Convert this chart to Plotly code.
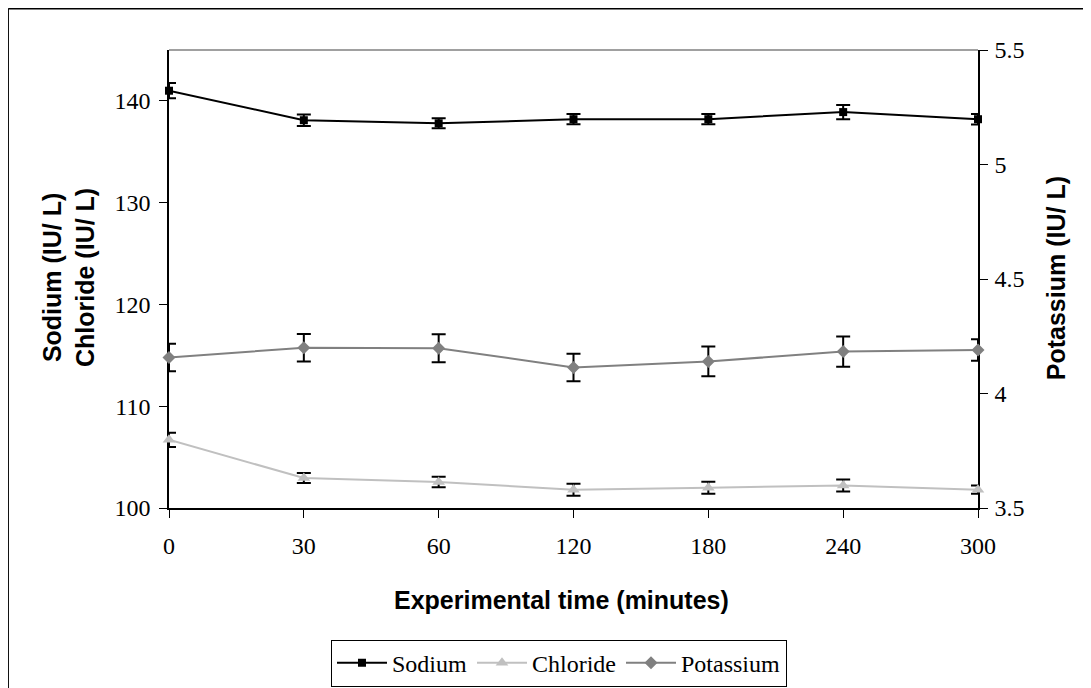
import plotly.graph_objects as go

categories = ["0", "30", "60", "120", "180", "240", "300"]
sodium = [141.0, 138.1, 137.8, 138.2, 138.2, 138.9, 138.2]
sodium_err = [0.75, 0.57, 0.5, 0.5, 0.5, 0.7, 0.52]
chloride = [106.7, 102.95, 102.55, 101.8, 102.0, 102.2, 101.8]
chloride_err = [0.7, 0.5, 0.52, 0.59, 0.59, 0.59, 0.41]
potassium = [4.157, 4.20, 4.198, 4.114, 4.14, 4.183, 4.19]
potassium_err = [0.06, 0.06, 0.061, 0.06, 0.065, 0.066, 0.047]

xpos = list(range(len(categories)))

# page body has an 8px margin; figure is sized to fit the window
OFF = 8
W, H = 1091 - OFF, 688 - OFF
ML = 169.3 - OFF
MT = 50 - OFF
MR = W - (977.7 - OFF)
MB = H - (508.3 - OFF)
PW, PH = W - ML - MR, H - MT - MB


def px_to_paper_x(px):
    return (px - OFF - ML) / PW


def px_to_paper_y(py):
    return (H - MB - (py - OFF)) / PH


serif = "Liberation Serif"
sans = "Liberation Sans"
NBSP = "\u00a0"


def err(arr):
    return dict(type="data", array=arr, visible=True, color="black", thickness=2, width=7)


fig = go.Figure()
fig.add_trace(go.Scatter(
    x=xpos, y=sodium, name="Sodium", mode="lines+markers",
    line=dict(color="black", width=2),
    marker=dict(symbol="square", size=8, color="black"),
    error_y=err(sodium_err), cliponaxis=False,
))
fig.add_trace(go.Scatter(
    x=xpos, y=chloride, name="Chloride", mode="lines+markers",
    line=dict(color="#C0C0C0", width=2),
    marker=dict(symbol="triangle-up", size=11, color="#C0C0C0"),
    error_y=err(chloride_err), cliponaxis=False,
))
fig.add_trace(go.Scatter(
    x=xpos, y=potassium, name="Potassium", mode="lines+markers", yaxis="y2",
    line=dict(color="#808080", width=2),
    marker=dict(symbol="diamond", size=10, color="#808080"),
    error_y=err(potassium_err), cliponaxis=False,
))

tickfont = dict(family=serif, size=24, color="black")
titlefont = dict(family=sans, size=25, color="black", weight="bold")

fig.update_layout(
    width=W, height=H,
    margin=dict(l=ML, r=MR, t=MT, b=MB, pad=0, autoexpand=False),
    paper_bgcolor="white", plot_bgcolor="white",
    showlegend=True,
    legend=dict(
        orientation="h", x=px_to_paper_x(559), xanchor="center",
        y=px_to_paper_y(640), yanchor="top",
        bordercolor="black", borderwidth=1, bgcolor="white",
        font=dict(family=serif, size=24, color="black"),
        itemsizing="trace", itemwidth=50, tracegroupgap=0,
    ),
    xaxis=dict(
        range=[0, 6], tickmode="array", tickvals=xpos, ticktext=categories,
        showline=True, linecolor="black", linewidth=1.5,
        ticks="outside", ticklen=8, tickcolor="black", tickwidth=1,
        showgrid=False, zeroline=False, tickfont=tickfont,
        ticklabelstandoff=7, layer="below traces",
    ),
    xaxis2=dict(
        range=[0, 6], overlaying="x", anchor="y", side="bottom",
        tickmode="array", tickvals=xpos, showticklabels=False,
        ticks="inside", ticklen=8, tickcolor="black", tickwidth=1,
        showline=False, showgrid=False, zeroline=False,
    ),
    yaxis=dict(
        range=[100, 145], tickmode="array", tickvals=[100, 110, 120, 130, 140],
        showline=True, linecolor="black", linewidth=1.5,
        ticks="outside", ticklen=8, tickcolor="black", tickwidth=1,
        showgrid=False, zeroline=False, tickfont=tickfont,
        ticksuffix=NBSP, ticklabelstandoff=4, layer="below traces",
    ),
    yaxis2=dict(
        range=[3.5, 5.5], tickmode="array", tickvals=[3.5, 4, 4.5, 5, 5.5],
        overlaying="y", side="right", anchor="x",
        showline=True, linecolor="black", linewidth=1.5,
        ticks="outside", ticklen=8, tickcolor="black", tickwidth=1,
        showgrid=False, zeroline=False, tickfont=tickfont,
        tickprefix=NBSP, ticklabelstandoff=2, layer="below traces",
    ),
    yaxis3=dict(
        range=[100, 145], overlaying="y", side="left", anchor="x",
        tickmode="array", tickvals=[100, 110, 120, 130, 140], showticklabels=False,
        ticks="inside", ticklen=7, tickcolor="black", tickwidth=1,
        showline=False, showgrid=False, zeroline=False,
    ),
    yaxis4=dict(
        range=[3.5, 5.5], overlaying="y", side="right", anchor="x",
        tickmode="array", tickvals=[3.5, 4, 4.5, 5, 5.5], showticklabels=False,
        ticks="inside", ticklen=7, tickcolor="black", tickwidth=1,
        showline=False, showgrid=False, zeroline=False,
    ),
    annotations=[
        dict(text="Experimental time (minutes)", xref="paper", yref="paper",
             x=px_to_paper_x(562), y=px_to_paper_y(600), xanchor="center", yanchor="middle",
             showarrow=False, font=titlefont),
        dict(text="Sodium (IU/ L)<br>Chloride (IU/ L)", xref="paper", yref="paper",
             x=px_to_paper_x(69.5), y=px_to_paper_y(278), xanchor="center", yanchor="middle",
             showarrow=False, font=titlefont, textangle=-90),
        dict(text="Potassium (IU/ L)", xref="paper", yref="paper",
             x=px_to_paper_x(1055), y=px_to_paper_y(278), xanchor="center", yanchor="middle",
             showarrow=False, font=titlefont, textangle=-90),
    ],
    shapes=[
        dict(type="line", xref="paper", yref="paper", x0=0, x1=1, y0=1, y1=1,
             line=dict(color="#808080", width=1.5), layer="below"),
        dict(type="line", xref="paper", yref="paper",
             x0=px_to_paper_x(8.6), x1=px_to_paper_x(8.6),
             y0=px_to_paper_y(8.6), y1=px_to_paper_y(720),
             line=dict(color="black", width=1.5)),
        dict(type="line", xref="paper", yref="paper",
             x0=px_to_paper_x(8.6), x1=px_to_paper_x(1120),
             y0=px_to_paper_y(8.6), y1=px_to_paper_y(8.6),
             line=dict(color="black", width=1.5)),
    ],
)

fig.write_html("out.html")
